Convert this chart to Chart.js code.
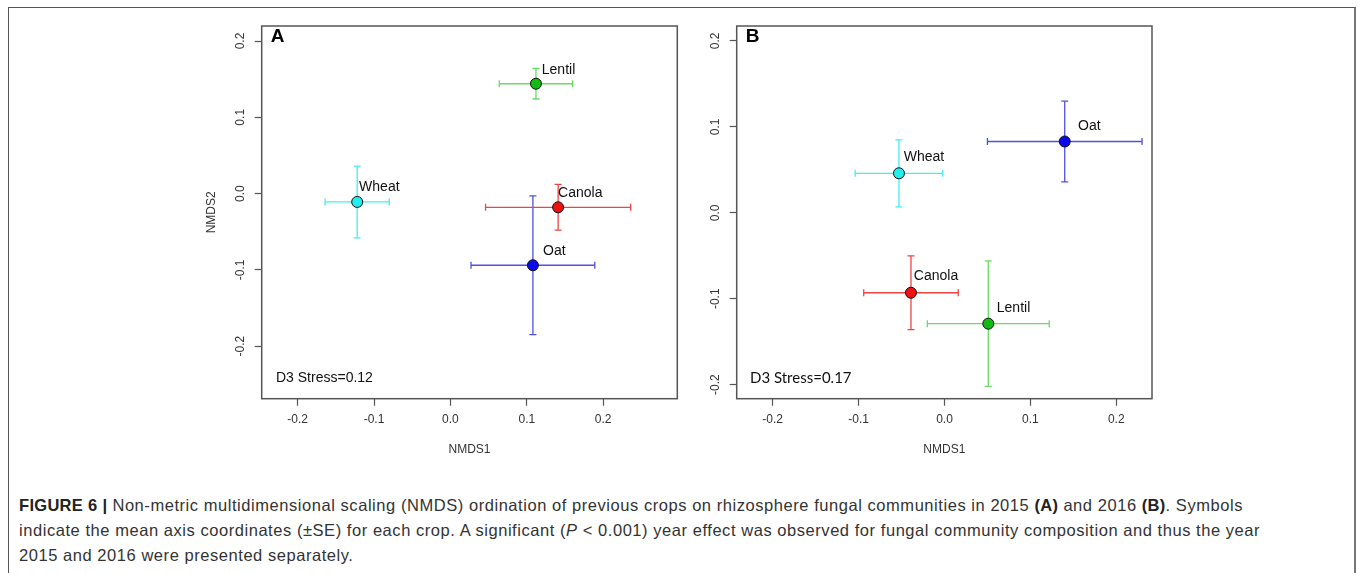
<!DOCTYPE html>
<html>
<head>
<meta charset="utf-8">
<script src="https://cdn.jsdelivr.net/npm/chart.js@4/dist/chart.umd.min.js"></script>
<style>
  body { margin: 0; background: #fff; width: 1360px; height: 573px; overflow: hidden; position: relative; }
  #frame { position: absolute; left: 8px; top: 7px; width: 1345px; height: 620px;
           border-left: 1px solid #555; border-top: 1px solid #555; border-right: 2px solid #777; }
  canvas { position: absolute; top: 0; }
  #chartA { left: 190px; }
  #chartB { left: 690px; }
  #caption { position: absolute; left: 19px; top: 493px; font-family: "Liberation Sans", Arial, sans-serif;
             font-size: 16.5px; letter-spacing: 0.55px; line-height: 25px; color: #333; white-space: nowrap; }
  #caption b { color: #222; letter-spacing: 0.3px; }
</style>
</head>
<body>
<div id="frame"></div>
<canvas id="chartA" width="500" height="470"></canvas>
<canvas id="chartB" width="480" height="470"></canvas>
<div id="caption">
  <div><b>FIGURE 6 |</b> Non-metric multidimensional scaling (NMDS) ordination of previous crops on rhizosphere fungal communities in 2015 <b>(A)</b> and 2016 <b>(B)</b>. Symbols</div>
  <div>indicate the mean axis coordinates (±SE) for each crop. A significant (<i>P</i> &lt; 0.001) year effect was observed for fungal community composition and thus the year</div>
  <div>2015 and 2016 were presented separately.</div>
</div>
<script>
// crops, same order in both years
const crops = ['Wheat', 'Canola', 'Lentil', 'Oat'];
const tickValues = [-0.2, -0.1, 0.0, 0.1, 0.2];

// 2015 (panel A): mean NMDS scores and SE
const x2015 = [-0.122, 0.141, 0.112, 0.108];
const y2015 = [-0.011, -0.018, 0.144, -0.094];
const xSe2015 = [0.042, 0.095, 0.048, 0.081];
const ySe2015 = [0.047, 0.030, 0.020, 0.091];
const labelX2015 = [-0.1195, 0.141, 0.1196, 0.1213];
const labelY2015 = [0.0083, 0.0008, 0.1616, -0.0752];

// 2016 (panel B)
const x2016 = [-0.053, -0.039, 0.051, 0.140];
const y2016 = [0.046, -0.093, -0.129, 0.083];
const xSe2016 = [0.051, 0.055, 0.071, 0.090];
const ySe2016 = [0.039, 0.043, 0.073, 0.047];
const labelX2016 = [-0.0474, -0.0357, 0.0609, 0.1555];
const labelY2016 = [0.0643, -0.0737, -0.1105, 0.1007];

const fillColors = ['#22eeee', '#ee1111', '#11bb11', '#0a0aee'];
const barColors = ['#44eeee', '#ee4444', '#66dd66', '#5050e0'];

const axisColor = '#555';
const tickFont = { family: 'Liberation Sans, Arial', size: 12 };

function buildDatasets(xs, ys, xse, yse) {
    const sets = [];
    crops.forEach((crop, i) => {
        // horizontal error bar
        sets.push({
            type: 'line', showLine: true, order: 2,
            data: [{ x: xs[i] - xse[i], y: ys[i] }, { x: xs[i] + xse[i], y: ys[i] }],
            borderColor: barColors[i], borderWidth: 1.3,
            pointStyle: 'line', pointRotation: 90, pointRadius: 3.5,
            pointBorderColor: barColors[i], pointBorderWidth: 1.3
        });
        // vertical error bar
        sets.push({
            type: 'line', showLine: true, order: 2,
            data: [{ x: xs[i], y: ys[i] - yse[i] }, { x: xs[i], y: ys[i] + yse[i] }],
            borderColor: barColors[i], borderWidth: 1.3,
            pointStyle: 'line', pointRotation: 0, pointRadius: 3.5,
            pointBorderColor: barColors[i], pointBorderWidth: 1.3
        });
    });
    sets.push({
        label: 'means', order: 1,
        data: crops.map((c, i) => ({ x: xs[i], y: ys[i] })),
        pointRadius: 5.5, pointBackgroundColor: fillColors, pointBorderColor: '#111', pointBorderWidth: 1
    });
    return sets;
}

// box round the plot area, panel letter, stress note and crop names
const decorations = {
    id: 'decorations',
    afterDatasetsDraw(chart, args, opts) {
        const { ctx, chartArea: a, scales } = chart;
        ctx.save();
        ctx.strokeStyle = axisColor;
        ctx.lineWidth = 1.5;
        ctx.strokeRect(a.left, a.top, a.right - a.left, a.bottom - a.top);

        ctx.fillStyle = '#111';
        ctx.textBaseline = 'middle';
        ctx.textAlign = 'left';
        ctx.font = '14px "Liberation Sans", Arial';
        opts.names.forEach((n, i) => {
            ctx.fillText(n, scales.x.getPixelForValue(opts.lx[i]), scales.y.getPixelForValue(opts.ly[i]));
        });

        ctx.fillStyle = '#000';
        ctx.font = 'bold 19px "Liberation Sans", Arial';
        ctx.fillText(opts.letter, a.left + opts.letterDx, a.top + 11);

        ctx.fillStyle = '#111';
        ctx.font = opts.stressFont;
        ctx.fillText(opts.stress, a.left + opts.stressDx, a.bottom - 21);
        ctx.restore();
    }
};

function makeChart(id, xs, ys, xse, yse, lx, ly, range, extra) {
    return new Chart(document.getElementById(id), {
        type: 'scatter',
        data: { datasets: buildDatasets(xs, ys, xse, yse) },
        options: {
            responsive: false,
            animation: false,
            layout: { padding: { left: 0, top: 26, right: extra.padRight, bottom: 0 } },
            plugins: {
                legend: { display: false },
                tooltip: { enabled: false },
                decorations: {
                    names: crops, lx: lx, ly: ly,
                    letter: extra.letter, letterDx: 9,
                    stress: extra.stress, stressDx: extra.stressDx, stressFont: extra.stressFont
                }
            },
            scales: {
                x: {
                    type: 'linear', min: range.xmin, max: range.xmax,
                    afterFit: (s) => { s.height = 71.3; },
                    border: { display: false },
                    grid: { drawOnChartArea: false, drawTicks: true, tickLength: 7, color: axisColor, tickWidth: 1.2 },
                    ticks: { stepSize: 0.1, includeBounds: false, autoSkip: false, maxRotation: 0, padding: 7,
                             color: '#333', font: tickFont, callback: (v) => v.toFixed(1) },
                    title: { display: true, text: 'NMDS1', color: '#333', font: tickFont, padding: { top: 0, bottom: 12.8 } }
                },
                y: {
                    type: 'linear', min: range.ymin, max: range.ymax,
                    afterFit: (s) => { s.width = extra.yWidth; },
                    border: { display: false },
                    grid: { drawOnChartArea: false, drawTicks: true, tickLength: 7, color: axisColor, tickWidth: 1.2 },
                    ticks: { stepSize: 0.1, includeBounds: false, autoSkip: false, minRotation: 90, maxRotation: 90,
                             crossAlign: 'center', padding: 3.5, color: '#333', font: tickFont,
                             callback: (v) => v.toFixed(1) },
                    title: { display: extra.yTitle, text: 'NMDS2', color: '#333', font: tickFont, padding: { top: 14.5, bottom: 0 } }
                }
            }
        },
        plugins: [decorations]
    });
}

makeChart('chartA', x2015, y2015, xSe2015, ySe2015, labelX2015, labelY2015,
    { xmin: -0.247, xmax: 0.297, ymin: -0.269, ymax: 0.2197 },
    { letter: 'A', stress: 'D3 Stress=0.12', stressDx: 14.3, stressFont: '14px "Liberation Sans", Arial',
      padRight: 12.7, yWidth: 71.7, yTitle: true });

makeChart('chartB', x2016, y2016, xSe2016, ySe2016, labelX2016, labelY2016,
    { xmin: -0.2419, xmax: 0.2416, ymin: -0.2163, ymax: 0.2174 },
    { letter: 'B', stress: 'D3 Stress=0.17', stressDx: 13.3, stressFont: '15px Lato, "Open Sans", sans-serif',
      padRight: 18, yWidth: 46.7, yTitle: false });
</script>
</body>
</html>
